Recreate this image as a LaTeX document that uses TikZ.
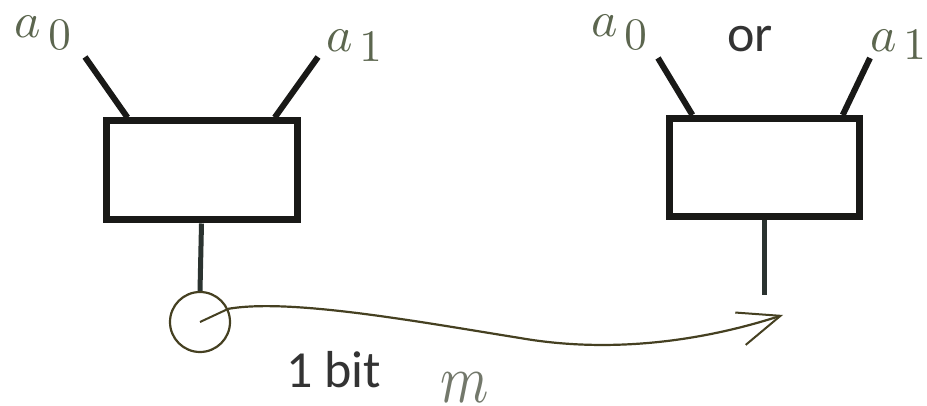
\documentclass[tikz,border=0pt]{standalone}
\usepackage[no-math]{fontspec}
\usepackage{graphicx}
\setmainfont{Carlito}
\usetikzlibrary{arrows.meta,calc}
\definecolor{labcol}{rgb}{0.36,0.40,0.31}
\definecolor{mcol}{rgb}{0.45,0.47,0.42}
\definecolor{wirecol}{rgb}{0.10,0.10,0.09}
\definecolor{curvecol}{rgb}{0.27,0.25,0.13}
\definecolor{stemcol}{rgb}{0.17,0.20,0.19}
\definecolor{txtcol}{rgb}{0.20,0.20,0.20}
\newcommand{\alab}[2]{\scalebox{5}{$a$}\kern7pt\raisebox{-#2pt}{\scalebox{4.5}{$#1$}}}
\tikzset{
  box/.style={draw=wirecol, line width=7pt, fill=white, rectangle, inner sep=0pt},
  wire/.style={draw=wirecol, line width=6pt},
  stem/.style={draw=stemcol, line width=5pt},
  lab/.style={text=labcol, anchor=base west, inner sep=0pt, outer sep=0pt},
  txt/.style={text=txtcol, anchor=base west, inner sep=0pt, outer sep=0pt, font=\fontsize{52}{60}\selectfont},
}
\begin{document}
\begin{tikzpicture}[x=1pt,y=-1pt]
\useasboundingbox (0,0) rectangle (927,406);
\fill[white] (0,0) rectangle (927,406);
% boxes
\node[box, minimum width=191pt, minimum height=99pt] (b1) at (201.5,170.5) {};
\node[box, minimum width=190pt, minimum height=98pt] (b2) at (764.5,167.5) {};
% wire ends
\coordinate (w1) at (85,57);
\coordinate (w2) at (318,57);
\coordinate (w3) at (658,58);
\coordinate (w4) at (870,58);
\draw[wire] ($(b1.north west)!0.126!(b1.north east)$) -- (w1);
\draw[wire] ($(b1.north west)!0.87!(b1.north east)$) -- (w2);
\draw[wire] ($(b2.north west)!0.134!(b2.north east)$) -- (w3);
\draw[wire] ($(b2.north west)!0.897!(b2.north east)$) -- (w4);
\node[box, minimum width=191pt, minimum height=99pt] at (b1) {};
\node[box, minimum width=190pt, minimum height=98pt] at (b2) {};
% measuring circle
\node[circle, draw=curvecol, line width=2.2pt, minimum size=60pt, inner sep=0pt] (c) at (200,322) {};
\draw[stem] (b1.south) -- (c.north);
\coordinate (s2) at (764.5,295);
\draw[stem] (b2.south) -- (s2);
\draw[curvecol, line width=2pt] (c.center) -- (c.25);
% signal curve
\coordinate (tip) at (783,315);
\draw[curvecol, line width=2.2pt, -{Straight Barb[length=42pt,width=34pt,line width=2pt]}]
  (c.25) .. controls (290,298) and (420,322) .. (520,338)
  .. controls (600,352) and (690,345) .. (tip);
% labels
\node[lab] (la0) at (15,38) {\alab{0}{12}};
\node[lab] (la1) at (326,52) {\alab{1}{10}};
\node[lab] (ra0) at (591,37) {\alab{0}{13}};
\node[lab] (ra1) at (870,52) {\alab{1}{8}};
\node[txt] (or) at (727,52) {or};
\node[txt] (bit) at (286,387) {1 bit};
\node[text=mcol, anchor=base west, inner sep=0pt] (m) at (440,402) {\scalebox{5.5}[6.9]{$m$}};
\end{tikzpicture}
\end{document}
